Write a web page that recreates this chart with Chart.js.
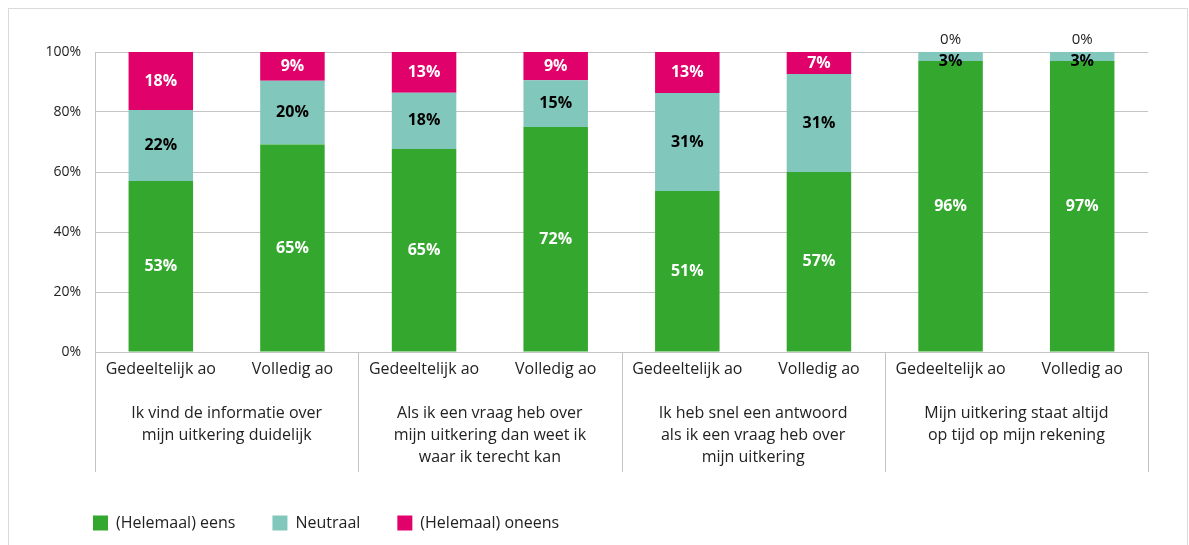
<!DOCTYPE html>
<html>
<head>
<meta charset="utf-8">
<script src="https://cdn.jsdelivr.net/npm/chart.js@4.4.1/dist/chart.umd.min.js"></script>
<style>
html, body { margin: 0; padding: 0; background: #fff; }
#wrap { position: relative; width: 1189px; height: 545px; overflow: hidden; }
#frame { position: absolute; left: 8px; top: 8px; width: 1178px; height: 600px; border: 1px solid #dadada; }
#box { position: absolute; left: 0; top: 0; width: 1189px; height: 545px; }
</style>
</head>
<body>
<div id="wrap">
  <div id="frame"></div>
  <div id="box"><canvas id="c"></canvas></div>
</div>
<script>
// bars (bottom axis) and the question each pair belongs to
var bars = ['Gedeeltelijk ao', 'Volledig ao', 'Gedeeltelijk ao', 'Volledig ao',
            'Gedeeltelijk ao', 'Volledig ao', 'Gedeeltelijk ao', 'Volledig ao'];
var groups = [
    ['Ik vind de informatie over', 'mijn uitkering duidelijk'],
    ['Als ik een vraag heb over', 'mijn uitkering dan weet ik', 'waar ik terecht kan'],
    ['Ik heb snel een antwoord', 'als ik een vraag heb over', 'mijn uitkering'],
    ['Mijn uitkering staat altijd', 'op tijd op mijn rekening']
];
// answers in % (as printed in the bars)
var eens     = [53, 65, 65, 72, 51, 57, 96, 97];
var neutraal = [22, 20, 18, 15, 31, 31, 3, 3];
var oneens   = [18, 9, 13, 9, 13, 7, 0, 0];
var yTicks = [0, 20, 40, 60, 80, 100];

var font = "'Open Sans', sans-serif";

// bars are drawn as share of the answers given (each bar fills to 100%)
function share(arr) {
    return arr.map(function(v, i) {
        var tot = eens[i] + neutraal[i] + oneens[i];
        return v / tot * 100;
    });
}

var labelPlugin = {
    id: 'barLabels',
    beforeDraw: function(chart) {
        // legend starts under the plot, not at the canvas edge
        var lg = chart.legend;
        if (lg && !lg._shifted) { lg.left += 12; lg.right += 12; lg._shifted = true; }
    },
    afterDatasetsDraw: function(chart) {
        var ctx = chart.ctx;
        ctx.save();
        ctx.textAlign = 'center';
        ctx.textBaseline = 'middle';
        chart.data.datasets.forEach(function(ds, di) {
            var meta = chart.getDatasetMeta(di);
            meta.data.forEach(function(bar, i) {
                var v = ds.raw[i];
                if (v === 0) {
                    ctx.font = '15px ' + font;
                    ctx.fillStyle = '#222';
                    ctx.fillText(v + '%', bar.x, bar.y - 12);
                } else {
                    ctx.font = 'bold 16px ' + font;
                    ctx.fillStyle = ds.labelColor;
                    var y = (bar.y + bar.base) / 2;
                    if (bar.base - bar.y < 14) y = bar.y + 9;
                    ctx.fillText(v + '%', bar.x, y);
                }
            });
        });
        ctx.restore();
    }
};

var groupPlugin = {
    id: 'groupAxis',
    afterDraw: function(chart) {
        var ctx = chart.ctx;
        var x = chart.scales.x;
        var top = x.top;
        ctx.save();
        ctx.strokeStyle = '#c4c4c4';
        ctx.lineWidth = 1;
        ctx.fillStyle = '#222';
        ctx.font = '16px ' + font;
        ctx.textAlign = 'center';
        ctx.textBaseline = 'middle';
        groups.forEach(function(lines, g) {
            var a = x.getPixelForValue(g * 2);
            var b = x.getPixelForValue(g * 2 + 1);
            var left = g === 0 ? x.left : (a + x.getPixelForValue(g * 2 - 1)) / 2;
            var right = g === groups.length - 1 ? x.right : (b + x.getPixelForValue(g * 2 + 2)) / 2;
            [left, right].forEach(function(px) {
                px = Math.round(px) + 0.5;
                ctx.beginPath();
                ctx.moveTo(px, top);
                ctx.lineTo(px, top + 120);
                ctx.stroke();
            });
            lines.forEach(function(t, k) {
                ctx.fillText(t, (a + b) / 2, top + 61 + k * 22);
            });
        });
        ctx.restore();
    }
};

new Chart(document.getElementById('c'), {
    type: 'bar',
    data: {
        labels: bars,
        datasets: [
            { label: '(Helemaal) eens', data: share(eens), raw: eens, backgroundColor: '#33a72e', labelColor: '#fff' },
            { label: 'Neutraal', data: share(neutraal), raw: neutraal, backgroundColor: '#82c7bc', labelColor: '#000' },
            { label: '(Helemaal) oneens', data: share(oneens), raw: oneens, backgroundColor: '#e0016a', labelColor: '#fff' }
        ]
    },
    options: {
        responsive: true,
        maintainAspectRatio: false,
        animation: false,
        layout: { padding: { top: 52, left: 44, right: 41, bottom: 4 } },
        datasets: { bar: { categoryPercentage: 1, barPercentage: 0.49 } },
        plugins: {
            tooltip: { enabled: false },
            legend: {
                position: 'bottom',
                align: 'start',
                labels: {
                    boxWidth: 15,
                    boxHeight: 15,
                    padding: 37,
                    color: '#222',
                    font: { family: font, size: 16 }
                }
            }
        },
        scales: {
            x: {
                stacked: true,
                grid: { drawOnChartArea: false, drawTicks: false },
                border: { color: '#c4c4c4' },
                ticks: { color: '#222', padding: 8, maxRotation: 0, autoSkip: false, font: { family: font, size: 16 } },
                afterFit: function(s) { s.height = 126; }
            },
            y: {
                stacked: true,
                min: 0,
                max: 100,
                grid: { color: '#c4c4c4', drawTicks: false },
                border: { color: '#c4c4c4' },
                afterBuildTicks: function(s) { s.ticks = yTicks.map(function(v) { return { value: v }; }); },
                ticks: {
                    color: '#222',
                    padding: 14,
                    font: { family: font, size: 14 },
                    callback: function(v) { return v + '%'; }
                },
                afterFit: function(s) { s.width = 51; }
            }
        }
    },
    plugins: [labelPlugin, groupPlugin]
});
</script>
</body>
</html>
